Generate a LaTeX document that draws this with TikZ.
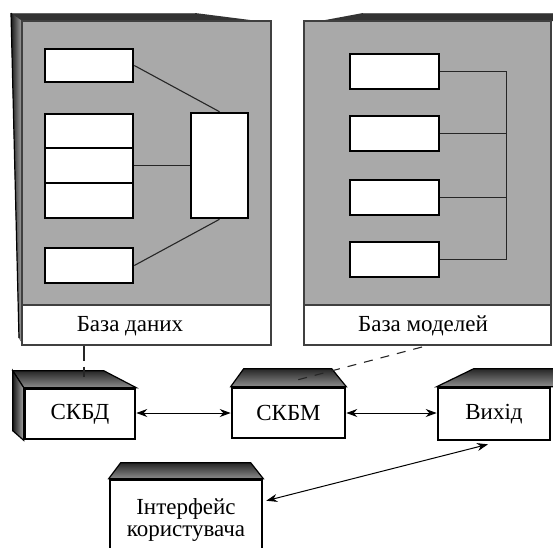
\documentclass[tikz,border=0pt]{standalone}
\usepackage{fontspec}
\setmainfont{Liberation Serif}
\usetikzlibrary{arrows.meta,calc,backgrounds}
\definecolor{panelgray}{HTML}{A9A9A9}
\begin{document}
\begin{tikzpicture}[x=1pt,y=-1pt,
  panel/.style={draw=black!75,line width=1.2pt,fill=panelgray,inner sep=0pt},
  labelbox/.style={draw=black!75,line width=1.2pt,fill=white,inner sep=0pt},
  inbox/.style={draw=black,line width=2.6pt,fill=white,inner sep=0pt},
  frontbox/.style={draw=black,line width=2.6pt,fill=white,inner sep=0pt,align=center,font=\fontsize{23}{22}\selectfont},
  txt/.style={font=\fontsize{23}{22}\selectfont,inner sep=0pt},
  link/.style={draw=black!85,line width=1.1pt},
  face/.style={draw=black,line width=1.2pt,top color=black!85,bottom color=black!45},
  sideface/.style={draw=black,line width=1.2pt,left color=black!90,right color=black!35},
  biarrow/.style={{Stealth[length=11pt,width=8pt]}-{Stealth[length=11pt,width=8pt]},line width=1pt,draw=black}
]
\useasboundingbox (0,0) rectangle (553,547);

% panels
\node[panel,minimum width=249pt,minimum height=284pt] (lp) at (146.5,163) {};
\node[labelbox,minimum width=249pt,minimum height=40pt] (ldb) at (146.5,325) {};
\node[txt] (ldbtext) at (130,326) {База даних};
\node[panel,minimum width=247pt,minimum height=284pt] (rp) at (427.5,163) {};
\node[labelbox,minimum width=247pt,minimum height=40pt] (rdb) at (427.5,325) {};
\node[txt] (rdbtext) at (423,326) {База моделей};

\begin{pgfonlayer}{background}
  % left panel top and side faces
  \fill[black!80] (11,13) -- (195,13) -- (258,21) -- (22,21) -- cycle;
  \draw[line width=1pt,black!60] (11,13) -- (195,13);
  \fill[sideface,draw=none] (11,13) -- (22,21) -- (22,343) -- (19,338) -- cycle;
  \draw[line width=1.2pt] (11,13) -- (19,338);
  % right panel top face
  \fill[black!80] (320,21) -- (363,13) -- (553,13) -- (553,21) -- cycle;
  \draw[line width=1pt,black!60] (363,13) -- (553,13);
\end{pgfonlayer}

% left inner boxes
\node[inbox,minimum width=88pt,minimum height=33pt] (b1) at (89,65.5) {};
\node[inbox,minimum width=88pt,minimum height=34pt] (s1) at (89,131) {};
\node[inbox,minimum width=88pt,minimum height=35pt] (s2) at (89,165.5) {};
\node[inbox,minimum width=88pt,minimum height=35pt] (s3) at (89,200.5) {};
\node[inbox,minimum width=88pt,minimum height=35pt] (b4) at (89,265.5) {};
\node[inbox,minimum width=57pt,minimum height=105pt] (tall) at (219.5,165.5) {};
\draw[link] (b1.east) -- (tall.north);
\draw[link] (s2.east) -- (tall.west);
\draw[link] (b4.east) -- (tall.south);

% right inner boxes
\node[inbox,minimum width=89pt,minimum height=35pt] (r1) at (394.5,71.5) {};
\node[inbox,minimum width=89pt,minimum height=35pt] (r2) at (394.5,133.5) {};
\node[inbox,minimum width=89pt,minimum height=35pt] (r3) at (394.5,197.5) {};
\node[inbox,minimum width=89pt,minimum height=35pt] (r4) at (394.5,259.5) {};
\draw[link] (r1.east) -- ++(66,0) coordinate (bustop) |- (r4.east);
\draw[link] (r2.east) -- (r2.east -| bustop);
\draw[link] (r3.east) -- (r3.east -| bustop);

% lower 3D boxes
\node[frontbox,minimum width=110pt,minimum height=50pt] (skbd) at (80,414) {СКБД};
\node[frontbox,minimum width=113pt,minimum height=50pt] (skbm) at (288.5,413) {СКБМ};
\node[frontbox,minimum width=112pt,minimum height=52pt] (vyhid) at (494,414) {Вихід};
\node[frontbox,minimum width=152pt,minimum height=80pt] (iface) at (186,520) {Інтерфейс\\користувача};

\begin{pgfonlayer}{background}
  \path[face] (skbd.north west) -- ++(-11,-17) -- ++(91,0) -- (skbd.north east) -- cycle;
  \path[sideface] (skbd.north west) -- ++(-11,-17) -- ++(0,60) -- (skbd.south west) -- cycle;
  \path[face] (skbm.north west) -- ++(13,-18) -- ++(88,0) -- (skbm.north east) -- cycle;
  \path[face] (vyhid.north west) -- ++(37,-18) -- ++(80,0) -- ++(0,18) -- cycle;
  \path[face] (iface.north west) -- ++(12,-16) -- ++(130,0) -- (iface.north east) -- cycle;
\end{pgfonlayer}

% connectors
\coordinate (dbjoin) at (84,377);
\draw[link,dash pattern=on 15pt off 6pt] (ldb.south -| dbjoin) -- (dbjoin);
\coordinate (mjoin) at (297,380);
\coordinate (mstart) at (422,347);
\draw[link,dash pattern=on 9pt off 8pt] (mstart) -- (mjoin);
\draw[biarrow] (skbd.east |- skbm.west) -- (skbm.west);
\draw[biarrow] (skbm.east) -- (skbm.east -| vyhid.west);
\coordinate (ifin) at ($(iface.north east)+(3,22)$);
\draw[biarrow] ($(vyhid.south)+(-6,3)$) -- (ifin);
\end{tikzpicture}
\end{document}
